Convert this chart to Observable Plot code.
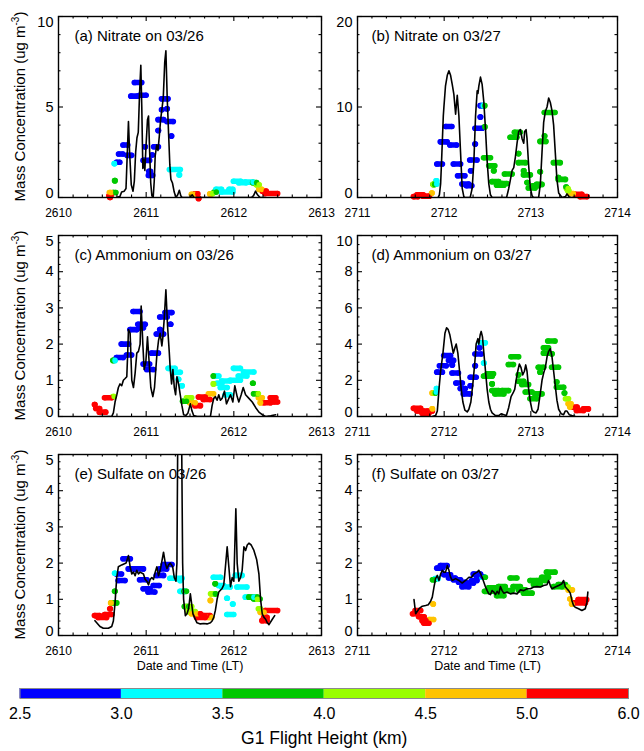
<!DOCTYPE html>
<html><head><meta charset="utf-8">
<script src="https://cdn.jsdelivr.net/npm/d3@7"></script>
<script src="https://cdn.jsdelivr.net/npm/@observablehq/plot@0.6"></script>
<style>
body{margin:0;background:#fff;}
#fig{position:relative;width:644px;height:751px;background:#fff;}
#fig svg{position:absolute;}
</style></head><body><div id="fig"></div>
<script>
// ---------- colour bins (G1 flight height, km) ----------
const heightLabels = ["2.5","3.0","3.5","4.0","4.5","5.0","6.0"];
const heightThresholds = [3.0,3.5,4.0,4.5,5.0];
const binColors = ["#0000ff","#00ffff","#00c800","#99ff00","#ffc300","#ff0000"];

// ---------- tick labels ----------
const xTicks26 = [2610,2611,2612,2613];
const xTicks27 = [2711,2712,2713,2714];
const yTicksA = [0,5,10];
const yTicksB = [0,10,20];
const yTicksC = [0,1,2,3,4,5];
const yTicksD = [0,2,4,6,8,10];
const yTicksE = [0,1,2,3,4,5];
const yTicksF = [0,1,2,3,4,5];

// ---------- (a) Nitrate 03/26 ----------
const nitrate26Line = [[2610.66,0],[2610.70,0.05],[2610.72,0.3],[2610.75,0.35],[2610.77,0.5],[2610.785,2.5],[2610.798,4.2],[2610.81,2.6],[2610.83,0.7],[2610.85,0.35],[2610.865,0.9],[2610.88,2.5],[2610.895,3.3],[2610.91,3.6],[2610.925,5.8],[2610.939,7.3],[2610.95,5.0],[2610.962,1.6],[2610.972,2.1],[2610.985,1.5],[2611.0,3.0],[2611.015,4.3],[2611.027,4.5],[2611.04,2.5],[2611.052,0.8],[2611.065,0.1],[2611.08,0],[2611.092,0.9],[2611.103,2.3],[2611.12,2.9],[2611.135,2.6],[2611.15,3.4],[2611.165,4.3],[2611.18,4.9],[2611.195,5.5],[2611.212,7.5],[2611.225,8.1],[2611.24,5.5],[2611.256,3.5],[2611.27,1.8],[2611.282,1.0],[2611.30,0.8],[2611.32,0.3],[2611.34,0],[2611.36,0.15],[2611.378,0.4],[2611.395,0.1],[2611.41,0],[2611.50,0],[2611.525,0.15],[2611.545,0],[2612.2,0],[2612.225,0.1],[2612.248,0.35],[2612.27,0.15],[2612.30,0],[2612.36,0]];
const nitrate26Dots = [[2610.58,2610.60,0.1,5.5],[2610.59,2610.59,0.0,5.5],[2610.585,2610.60,0.28,4.7],[2610.625,2610.655,0.28,3.8],[2610.645,2610.645,0.93,3.8],[2610.64,2610.64,1.87,3.2],[2610.665,2610.70,1.95,2.8],[2610.69,2610.735,2.4,2.8],[2610.74,2610.79,2.9,2.8],[2610.785,2610.835,2.33,2.8],[2610.83,2610.90,5.6,2.8],[2610.87,2610.95,6.35,2.8],[2610.93,2611.0,5.65,2.8],[2610.99,2610.99,2.8,2.8],[2610.97,2611.04,2.05,2.8],[2611.03,2611.075,1.22,2.8],[2611.035,2611.05,1.45,2.8],[2611.07,2611.07,2.35,2.8],[2611.09,2611.14,2.8,2.8],[2611.14,2611.14,3.7,2.8],[2611.14,2611.20,4.3,2.8],[2611.18,2611.18,4.85,2.8],[2611.18,2611.25,5.45,2.8],[2611.24,2611.24,4.9,2.8],[2611.24,2611.31,4.2,2.8],[2611.29,2611.29,3.4,2.8],[2611.27,2611.39,1.55,3.2],[2611.38,2611.38,1.25,3.2],[2611.52,2611.55,0.18,4.7],[2611.56,2611.59,0.2,5.5],[2611.60,2611.60,-0.05,5.5],[2611.73,2611.74,0.2,4.7],[2611.75,2611.76,0.22,4.2],[2611.78,2611.80,0.3,3.8],[2611.80,2611.86,0.45,3.2],[2611.86,2611.99,0.3,3.2],[2611.95,2611.99,0.45,3.2],[2612.0,2612.08,0.9,3.2],[2612.06,2612.14,0.82,3.2],[2612.13,2612.22,0.85,3.2],[2612.22,2612.26,0.82,3.8],[2612.26,2612.29,0.7,4.2],[2612.29,2612.32,0.45,4.7],[2612.33,2612.37,0.35,5.5],[2612.36,2612.50,0.22,5.5]];

// ---------- (b) Nitrate 03/27 ----------
const nitrate27Line = [[2711.93,0],[2711.945,0.3],[2711.959,1.5],[2711.97,4],[2711.978,6],[2711.99,9],[2711.997,10],[2712.015,12.3],[2712.036,13.5],[2712.055,14.0],[2712.074,13.5],[2712.093,12.5],[2712.112,11.4],[2712.132,9.2],[2712.151,11.3],[2712.170,9.0],[2712.189,5.0],[2712.208,1.0],[2712.227,0.1],[2712.24,0],[2712.30,0],[2712.323,1.0],[2712.343,4.0],[2712.362,9.0],[2712.381,11.8],[2712.39,11.5],[2712.40,12.3],[2712.419,13.3],[2712.438,12.5],[2712.458,10.5],[2712.477,7.5],[2712.496,4.0],[2712.515,1.5],[2712.534,0.3],[2712.553,0],[2712.72,0],[2712.745,1.0],[2712.765,2.0],[2712.784,3.0],[2712.803,3.3],[2712.822,4.5],[2712.841,6.0],[2712.860,7.3],[2712.880,7.5],[2712.899,6.5],[2712.918,6.0],[2712.929,7.3],[2712.945,7.5],[2712.956,6.5],[2712.975,3.5],[2712.995,1.0],[2713.014,0.2],[2713.03,0],[2713.09,0],[2713.11,1.5],[2713.129,5.0],[2713.148,8.3],[2713.167,9.5],[2713.187,10.0],[2713.206,11.0],[2713.225,10.5],[2713.244,9.6],[2713.263,8.0],[2713.282,5.0],[2713.301,2.0],[2713.321,0.5],[2713.36,0],[2713.40,0.1],[2713.417,0.4],[2713.44,0.1],[2713.46,0],[2713.51,0]];
const nitrate27Dots = [[2711.65,2711.70,0.1,5.5],[2711.69,2711.76,0.3,5.5],[2711.76,2711.83,0.15,5.5],[2711.86,2711.86,0.5,4.7],[2711.875,2711.875,1.45,4.2],[2711.88,2711.89,1.45,3.8],[2711.91,2711.915,1.85,3.2],[2711.915,2711.915,1.5,3.2],[2711.92,2711.98,3.7,2.8],[2711.96,2712.035,6.15,2.8],[2712.02,2712.09,7.85,2.8],[2712.07,2712.145,5.8,2.8],[2712.11,2712.19,3.7,2.8],[2712.16,2712.24,2.4,2.8],[2712.21,2712.285,1.5,2.8],[2712.26,2712.32,1.3,2.8],[2712.31,2712.31,2.95,2.8],[2712.30,2712.38,4.15,2.8],[2712.36,2712.36,5.9,2.8],[2712.36,2712.44,7.65,2.8],[2712.42,2712.42,8.9,2.8],[2712.42,2712.44,10.15,2.8],[2712.44,2712.45,10.15,3.2],[2712.46,2712.47,10.15,3.8],[2712.47,2712.47,7.8,3.8],[2712.46,2712.535,4.4,3.8],[2712.52,2712.585,3.5,3.8],[2712.575,2712.575,2.95,3.8],[2712.555,2712.63,1.75,3.8],[2712.61,2712.69,1.35,3.8],[2712.67,2712.725,1.55,3.8],[2712.70,2712.785,2.6,3.8],[2712.765,2712.84,6.65,3.8],[2712.815,2712.88,7.2,3.8],[2712.86,2712.86,4.85,3.8],[2712.86,2712.94,3.85,3.8],[2712.92,2712.92,2.95,3.8],[2712.92,2712.995,2.5,3.8],[2712.96,2712.96,1.65,3.8],[2712.975,2713.05,1.05,3.8],[2713.025,2713.09,1.3,3.8],[2713.07,2713.13,1.45,3.8],[2713.11,2713.11,2.85,3.8],[2713.11,2713.175,6.2,3.8],[2713.16,2713.16,6.8,3.8],[2713.16,2713.28,9.4,3.8],[2713.265,2713.34,3.85,3.8],[2713.32,2713.32,2.2,3.8],[2713.32,2713.40,2.0,3.8],[2713.41,2713.41,1.15,3.8],[2713.415,2713.43,1.0,4.2],[2713.43,2713.44,0.75,4.2],[2713.455,2713.49,0.45,4.7],[2713.51,2713.59,0.35,5.5],[2713.57,2713.65,0.1,5.5]];

// ---------- (c) Ammonium 03/26 ----------
const ammonium26Line = [[2610.47,0],[2610.607,0],[2610.626,0.1],[2610.645,0.4],[2610.665,0.6],[2610.683,0.8],[2610.702,0.9],[2610.721,0.85],[2610.740,1.0],[2610.760,1.05],[2610.779,1.1],[2610.79,1.8],[2610.798,2.4],[2610.817,2.3],[2610.836,1.0],[2610.855,0.8],[2610.874,1.2],[2610.893,1.75],[2610.912,1.8],[2610.931,2.0],[2610.943,3.05],[2610.962,2.0],[2610.977,1.3],[2610.996,1.5],[2611.015,2.2],[2611.034,1.5],[2611.053,0.8],[2611.076,0.55],[2611.095,0.8],[2611.122,1.7],[2611.141,2.1],[2611.160,2.3],[2611.179,1.95],[2611.191,2.2],[2611.206,2.7],[2611.225,3.5],[2611.244,2.5],[2611.263,1.8],[2611.275,1.3],[2611.290,0.9],[2611.305,1.3],[2611.321,0.8],[2611.336,0.6],[2611.351,1.1],[2611.370,0.9],[2611.389,0.6],[2611.408,0.3],[2611.427,0.05],[2611.454,0.03],[2611.477,0.1],[2611.504,0.35],[2611.523,0.15],[2611.542,0.03],[2611.58,0],[2611.733,0],[2611.752,0.3],[2611.771,0.5],[2611.790,0.55],[2611.809,0.45],[2611.828,0.6],[2611.847,0.45],[2611.866,0.5],[2611.893,0.7],[2611.916,0.35],[2611.943,0.5],[2611.962,0.6],[2611.989,0.4],[2612.011,0.85],[2612.038,0.55],[2612.057,0.4],[2612.084,0.6],[2612.107,0.8],[2612.134,0.6],[2612.172,0.5],[2612.210,0.4],[2612.248,0.25],[2612.286,0.12],[2612.324,0.05],[2612.363,0],[2612.42,0.02],[2612.477,0.05]];
const ammonium26Dots = [[2610.415,2610.415,0.33,5.5],[2610.43,2610.47,0.22,5.5],[2610.47,2610.54,0.12,5.5],[2610.53,2610.61,0.52,5.5],[2610.625,2610.635,0.55,4.2],[2610.625,2610.625,1.55,3.8],[2610.645,2610.645,1.55,3.2],[2610.665,2610.74,1.63,2.8],[2610.72,2610.80,2.0,2.8],[2610.78,2610.835,1.7,2.8],[2610.82,2610.895,2.4,2.8],[2610.855,2610.93,2.9,2.8],[2610.91,2610.99,2.55,2.8],[2610.93,2610.97,2.45,2.8],[2610.97,2611.04,1.45,2.8],[2611.01,2611.085,1.3,2.8],[2611.065,2611.14,1.75,2.8],[2611.12,2611.20,2.28,2.8],[2611.16,2611.16,2.4,2.8],[2611.16,2611.24,2.75,2.8],[2611.22,2611.295,2.87,2.8],[2611.28,2611.28,2.55,2.8],[2611.255,2611.33,1.33,3.2],[2611.31,2611.39,1.22,3.2],[2611.37,2611.37,1.03,3.2],[2611.41,2611.41,0.85,3.2],[2611.42,2611.46,0.42,3.8],[2611.465,2611.52,0.52,4.2],[2611.50,2611.56,0.38,4.7],[2611.56,2611.62,0.3,5.5],[2611.60,2611.675,0.54,5.5],[2611.655,2611.73,0.47,5.5],[2611.715,2611.77,0.63,4.7],[2611.77,2611.77,1.12,3.8],[2611.79,2611.83,1.12,3.2],[2611.77,2611.77,0.9,4.2],[2611.81,2611.865,0.92,3.2],[2611.85,2611.925,0.8,3.2],[2611.865,2611.96,0.98,3.2],[2611.905,2611.96,0.6,3.2],[2611.96,2612.075,1.0,3.2],[2612.0,2612.075,1.33,3.2],[2612.055,2612.15,1.12,3.2],[2612.115,2612.23,1.23,3.2],[2612.22,2612.22,0.92,3.8],[2612.23,2612.27,0.63,3.8],[2612.27,2612.28,0.63,4.2],[2612.285,2612.325,0.52,4.7],[2612.305,2612.305,0.38,4.7],[2612.345,2612.42,0.38,5.5],[2612.42,2612.48,0.52,5.5],[2612.46,2612.50,0.4,5.5]];

// ---------- (d) Ammonium 03/27 ----------
const ammonium27Line = [[2711.863,0],[2711.901,0.05],[2711.921,0.3],[2711.940,1.5],[2711.959,2.5],[2711.986,3.5],[2712.009,4.6],[2712.028,4.9],[2712.047,4.8],[2712.066,4.5],[2712.086,4.0],[2712.105,3.5],[2712.124,3.8],[2712.139,4.0],[2712.158,3.5],[2712.178,2.5],[2712.197,1.5],[2712.216,0.8],[2712.239,0.35],[2712.266,0.25],[2712.285,0.4],[2712.308,0.8],[2712.331,1.8],[2712.354,3.0],[2712.369,4.0],[2712.389,4.3],[2712.400,4.0],[2712.415,4.5],[2712.427,4.7],[2712.442,4.4],[2712.458,3.5],[2712.477,2.5],[2712.496,1.5],[2712.515,0.8],[2712.534,0.4],[2712.553,0.2],[2712.592,0.05],[2712.630,0.05],[2712.657,0.15],[2712.688,0.1],[2712.718,0.05],[2712.745,0.5],[2712.772,1.1],[2712.795,1.3],[2712.814,1.5],[2712.830,2.0],[2712.849,2.5],[2712.868,2.9],[2712.887,2.7],[2712.906,2.3],[2712.926,2.5],[2712.941,2.85],[2712.956,2.5],[2712.975,1.5],[2712.995,0.8],[2713.014,0.35],[2713.033,0.25],[2713.060,0.2],[2713.083,0.4],[2713.110,1.3],[2713.129,2.0],[2713.148,2.4],[2713.167,2.7],[2713.187,3.3],[2713.206,3.6],[2713.225,3.75],[2713.244,3.3],[2713.263,2.5],[2713.282,1.7],[2713.301,0.9],[2713.321,0.4],[2713.351,0.15],[2713.378,0.1],[2713.397,0.3],[2713.417,0.3],[2713.443,0.1],[2713.474,0.05],[2713.512,0]];
const ammonium27Dots = [[2711.65,2711.73,0.45,5.5],[2711.69,2711.77,0.3,5.5],[2711.75,2711.825,0.18,5.5],[2711.805,2711.865,0.3,5.5],[2711.865,2711.865,0.42,4.7],[2711.865,2711.865,1.3,4.7],[2711.875,2711.885,1.3,4.2],[2711.895,2711.90,1.3,3.8],[2711.915,2711.915,1.55,3.2],[2711.91,2711.91,1.35,3.2],[2711.92,2711.98,2.45,2.8],[2711.95,2712.025,2.8,2.8],[2712.0,2712.075,3.37,2.8],[2712.055,2712.11,3.1,2.8],[2712.095,2712.095,2.85,2.8],[2712.095,2712.165,2.4,2.8],[2712.14,2712.21,1.85,2.8],[2712.19,2712.245,1.55,2.8],[2712.225,2712.30,1.25,2.8],[2712.305,2712.305,1.7,2.8],[2712.305,2712.37,2.17,2.8],[2712.36,2712.36,2.8,2.8],[2712.36,2712.43,3.45,2.8],[2712.41,2712.41,3.8,2.8],[2712.42,2712.475,4.07,3.2],[2712.46,2712.46,2.95,3.2],[2712.46,2712.555,2.23,3.8],[2712.50,2712.57,2.36,3.8],[2712.555,2712.555,1.8,3.8],[2712.555,2712.63,1.43,3.8],[2712.59,2712.69,1.25,3.8],[2712.67,2712.745,1.43,3.8],[2712.745,2712.80,2.87,3.8],[2712.775,2712.86,3.3,3.8],[2712.86,2712.86,2.3,3.8],[2712.86,2712.92,1.95,3.8],[2712.90,2712.975,1.77,3.8],[2712.94,2713.015,1.35,3.8],[2712.995,2713.07,0.98,3.8],[2713.05,2713.13,1.25,3.8],[2713.11,2713.11,2.45,3.8],[2713.09,2713.15,2.72,3.8],[2713.15,2713.20,3.5,3.8],[2713.15,2713.205,3.8,3.8],[2713.20,2713.28,4.17,3.8],[2713.245,2713.245,3.46,3.8],[2713.245,2713.32,2.72,3.8],[2713.30,2713.30,1.9,3.8],[2713.30,2713.38,1.62,3.8],[2713.39,2713.39,1.3,3.8],[2713.405,2713.435,0.98,4.2],[2713.435,2713.465,0.7,4.7],[2713.455,2713.455,0.52,4.7],[2713.475,2713.535,0.52,5.5],[2713.53,2713.61,0.33,5.5],[2713.61,2713.665,0.42,5.5]];

// ---------- (e) Sulfate 03/26 ----------
const sulfate26Line = [[2610.416,0.41],[2610.473,0.25],[2610.511,0.2],[2610.569,0.2],[2610.607,0.25],[2610.626,0.4],[2610.645,0.9],[2610.664,1.6],[2610.683,1.9],[2610.721,1.95],[2610.771,2.0],[2610.798,2.21],[2610.817,1.9],[2610.836,1.7],[2610.855,1.75],[2610.874,1.65],[2610.893,1.8],[2610.912,1.7],[2610.931,1.75],[2610.969,1.7],[2610.989,1.55],[2611.008,1.5],[2611.027,1.4],[2611.046,1.55],[2611.065,1.6],[2611.084,1.55],[2611.103,1.75],[2611.122,1.9],[2611.141,1.65],[2611.160,1.8],[2611.179,2.05],[2611.198,2.3],[2611.218,2.0],[2611.237,1.85],[2611.256,1.95],[2611.275,2.0],[2611.302,1.9],[2611.321,1.6],[2611.340,1.5],[2611.351,2.0],[2611.363,6.5],[2611.401,6.5],[2611.416,2.0],[2611.427,1.0],[2611.447,0.55],[2611.466,0.6],[2611.485,0.75],[2611.504,1.15],[2611.523,0.8],[2611.534,0.6],[2611.550,0.5],[2611.580,0.35],[2611.618,0.32],[2611.656,0.33],[2611.695,0.32],[2611.733,0.35],[2611.752,0.4],[2611.771,0.5],[2611.790,0.7],[2611.809,1.0],[2611.828,1.2],[2611.847,1.25],[2611.866,1.3],[2611.885,1.4],[2611.897,1.7],[2611.924,2.45],[2611.943,1.9],[2611.962,1.35],[2611.981,1.6],[2612.0,1.5],[2612.023,3.5],[2612.038,2.0],[2612.057,1.5],[2612.076,1.6],[2612.095,1.8],[2612.115,2.45],[2612.134,2.35],[2612.153,2.5],[2612.172,2.55],[2612.198,2.5],[2612.229,2.35],[2612.260,2.1],[2612.286,1.7],[2612.305,1.0],[2612.324,0.6],[2612.344,0.5],[2612.363,0.45],[2612.382,0.35],[2612.401,0.3],[2612.439,0.45],[2612.466,0.55]];
const sulfate26Dots = [[2610.415,2610.47,0.55,5.5],[2610.455,2610.55,0.5,5.5],[2610.53,2610.61,0.58,5.5],[2610.59,2610.59,0.74,5.5],[2610.60,2610.60,0.9,4.7],[2610.61,2610.665,0.9,3.8],[2610.645,2610.645,1.22,3.8],[2610.645,2610.645,1.72,3.2],[2610.665,2610.72,1.7,2.8],[2610.685,2610.76,1.52,2.8],[2610.74,2610.82,2.12,2.8],[2610.80,2610.875,1.84,2.8],[2610.875,2610.97,1.84,2.8],[2610.93,2611.01,1.54,2.8],[2610.97,2611.045,1.29,2.8],[2611.025,2611.10,1.2,2.8],[2611.085,2611.15,1.38,2.8],[2611.12,2611.20,1.66,2.8],[2611.16,2611.235,1.84,2.8],[2611.20,2611.295,1.96,2.8],[2611.275,2611.41,1.58,3.2],[2611.39,2611.39,1.52,3.2],[2611.39,2611.445,1.22,3.2],[2611.43,2611.46,1.22,3.8],[2611.44,2611.485,0.8,3.8],[2611.465,2611.52,0.8,4.2],[2611.485,2611.56,0.66,4.2],[2611.52,2611.58,0.6,4.7],[2611.56,2611.62,0.6,5.5],[2611.58,2611.675,0.5,5.5],[2611.655,2611.73,0.55,5.5],[2611.715,2611.75,0.5,4.7],[2611.735,2611.735,0.97,4.7],[2611.74,2611.78,1.15,4.2],[2611.79,2611.79,1.15,3.8],[2611.79,2611.79,1.43,3.8],[2611.77,2611.85,1.61,3.2],[2611.83,2611.885,1.38,3.2],[2611.865,2611.96,1.34,3.2],[2611.925,2611.925,1.03,3.2],[2611.925,2612.0,0.58,3.2],[2611.99,2611.99,0.87,3.2],[2612.02,2612.095,1.66,3.2],[2612.04,2612.15,1.34,3.2],[2612.135,2612.23,1.06,3.2],[2612.17,2612.27,1.06,3.8],[2612.23,2612.30,1.01,3.8],[2612.27,2612.27,1.0,4.2],[2612.285,2612.305,0.74,4.2],[2612.305,2612.345,0.64,4.7],[2612.345,2612.38,0.5,5.5],[2612.325,2612.38,0.41,5.5],[2612.36,2612.50,0.69,5.5]];

// ---------- (f) Sulfate 03/27 ----------
const sulfate27Line = [[2711.652,0.99],[2711.671,0.6],[2711.710,0.74],[2711.748,0.81],[2711.786,0.83],[2711.817,0.85],[2711.844,0.95],[2711.863,1.06],[2711.882,1.33],[2711.901,1.57],[2711.921,1.66],[2711.940,1.52],[2711.959,1.7],[2711.978,1.8],[2711.997,1.75],[2712.016,1.75],[2712.036,1.93],[2712.055,1.8],[2712.074,1.61],[2712.093,1.52],[2712.132,1.57],[2712.170,1.52],[2712.208,1.45],[2712.247,1.52],[2712.285,1.61],[2712.316,1.61],[2712.343,1.7],[2712.381,1.75],[2712.400,1.8],[2712.419,1.72],[2712.438,1.61],[2712.458,1.47],[2712.477,1.34],[2712.496,1.24],[2712.515,1.15],[2712.534,1.13],[2712.553,1.24],[2712.573,1.2],[2712.592,1.13],[2712.611,1.22],[2712.630,1.15],[2712.649,1.35],[2712.669,1.24],[2712.688,1.17],[2712.726,1.2],[2712.764,1.15],[2712.803,1.17],[2712.841,1.15],[2712.880,1.26],[2712.918,1.24],[2712.956,1.29],[2712.995,1.29],[2713.033,1.34],[2713.071,1.35],[2713.110,1.34],[2713.148,1.38],[2713.186,1.4],[2713.206,1.52],[2713.225,1.38],[2713.244,1.29],[2713.282,1.34],[2713.321,1.38],[2713.359,1.43],[2713.378,1.52],[2713.397,1.35],[2713.417,1.29],[2713.436,1.24],[2713.455,1.17],[2713.474,0.97],[2713.493,0.83],[2713.512,0.78],[2713.551,0.74],[2713.589,0.69],[2713.628,0.74],[2713.647,0.92],[2713.658,1.2]];
const sulfate27Dots = [[2711.64,2711.69,0.6,5.5],[2711.67,2711.73,0.69,5.5],[2711.71,2711.77,0.52,5.5],[2711.75,2711.79,0.41,5.5],[2711.77,2711.825,0.34,5.5],[2711.83,2711.88,0.44,4.7],[2711.875,2711.875,0.87,4.7],[2711.87,2711.89,1.54,3.8],[2711.90,2711.93,1.57,3.2],[2711.92,2711.98,1.86,2.8],[2711.96,2712.035,1.93,2.8],[2712.0,2712.075,1.68,2.8],[2712.055,2712.13,1.59,2.8],[2712.11,2712.19,1.54,2.8],[2712.17,2712.245,1.47,2.8],[2712.21,2712.285,1.35,2.8],[2712.265,2712.34,1.45,2.8],[2712.32,2712.38,1.52,2.8],[2712.34,2712.42,1.7,2.8],[2712.38,2712.445,1.63,2.8],[2712.44,2712.47,1.61,3.2],[2712.46,2712.475,1.61,3.8],[2712.47,2712.535,1.22,3.8],[2712.515,2712.59,1.32,3.8],[2712.575,2712.65,1.22,3.8],[2712.61,2712.69,1.1,3.8],[2712.63,2712.705,1.35,3.8],[2712.69,2712.785,1.24,3.8],[2712.765,2712.84,1.59,3.8],[2712.80,2712.88,1.35,3.8],[2712.86,2712.94,1.26,3.8],[2712.92,2713.015,1.17,3.8],[2712.995,2713.07,1.52,3.8],[2713.035,2713.11,1.41,3.8],[2713.09,2713.17,1.52,3.8],[2713.13,2713.205,1.61,3.8],[2713.185,2713.28,1.75,3.8],[2713.265,2713.36,1.35,3.8],[2713.32,2713.40,1.41,3.8],[2713.40,2713.43,1.34,4.2],[2713.435,2713.48,1.26,4.7],[2713.455,2713.455,1.01,4.7],[2713.475,2713.475,0.87,4.7],[2713.495,2713.63,0.9,5.5],[2713.55,2713.645,0.99,5.5]];

const FONT = "'Liberation Sans', Arial, Helvetica, sans-serif";
const fig = document.getElementById("fig");
const isMajor = (arr, v) => arr.some(m => Math.abs(m - v) < 1e-6);
const yLabBase = "Mass Concentration (ug m";
const yLabSup = "-3";
const yLabTail = ")";
const NS = "http://www.w3.org/2000/svg";

function addYLabel(svg, cx, cy) {
  const t = document.createElementNS(NS, "text");
  t.setAttribute("transform", `translate(${cx},${cy}) rotate(-90)`);
  t.setAttribute("text-anchor", "middle");
  t.setAttribute("dy", "0.35em");
  t.setAttribute("font-size", "15");
  t.setAttribute("font-family", FONT);
  t.setAttribute("fill", "#000");
  const a = document.createElementNS(NS, "tspan"); a.textContent = yLabBase;
  const s = document.createElementNS(NS, "tspan"); s.setAttribute("dy", "-6"); s.setAttribute("font-size", "10"); s.textContent = yLabSup;
  const c = document.createElementNS(NS, "tspan"); c.setAttribute("dy", "6"); c.textContent = yLabTail;
  t.appendChild(a); t.appendChild(s); t.appendChild(c);
  svg.appendChild(t);
}

function panel(cfg) {
  const {line, dots, title, xMajor, yMajor, yMinorStep, left, top, width, height, ml, mr, mt, mb, yLabel, xLabel, titleDx} = cfg;
  const iw = width - ml - mr, ih = height - mt - mb;
  const xDomain = [xMajor[0], xMajor[xMajor.length - 1]];
  const yDomain = [yMajor[0], yMajor[yMajor.length - 1]];
  const recs = dots.map(([x1, x2, y, h]) => ({x1, x2, y, h}));
  const yMinor = d3.range(yDomain[0], yDomain[1] + 1e-9, yMinorStep).filter(v => !isMajor(yMajor, v));
  const xMinor = d3.range(xDomain[0], xDomain[1] + 1e-9, 1 / 6).filter(v => !isMajor(xMajor, v));
  const tk = 1.1;
  const marks = [
    Plot.ruleY(recs, {x1: "x1", x2: "x2", y: "y", stroke: "h", strokeWidth: 5.6, strokeLinecap: "round"}),
    Plot.dot(recs, {x: "x1", y: "y", r: 2.8, fill: "h"}),
    Plot.dot(recs, {x: "x2", y: "y", r: 2.8, fill: "h"}),
    Plot.line(line, {x: d => d[0], y: d => d[1], stroke: "#000", strokeWidth: 1.6, clip: true}),
    Plot.tickY(yMajor, {y: d => d, insetRight: iw - 5, strokeWidth: tk}),
    Plot.tickY(yMajor, {y: d => d, insetLeft: iw - 5, strokeWidth: tk}),
    Plot.tickY(yMinor, {y: d => d, insetRight: iw - 2.5, strokeWidth: tk}),
    Plot.tickY(yMinor, {y: d => d, insetLeft: iw - 2.5, strokeWidth: tk}),
    Plot.tickX(xMajor, {x: d => d, insetTop: ih - 5, strokeWidth: tk}),
    Plot.tickX(xMajor, {x: d => d, insetBottom: ih - 5, strokeWidth: tk}),
    Plot.tickX(xMinor, {x: d => d, insetTop: ih - 2.5, strokeWidth: tk}),
    Plot.tickX(xMinor, {x: d => d, insetBottom: ih - 2.5, strokeWidth: tk}),
    Plot.frame({stroke: "#000", strokeWidth: 1.4}),
    Plot.text([title], {text: d => d, frameAnchor: "top-left", dx: titleDx, dy: 20, textAnchor: "start", lineAnchor: "middle", fontSize: 15, fill: "#000"}),
    Plot.text(yMajor.slice(1, -1), {y: d => d, text: d => String(d), frameAnchor: "left", dx: -5, textAnchor: "end", lineAnchor: "middle", fontSize: 14.5, fill: "#000"}),
    Plot.text([yMajor[0]], {y: d => d, text: d => String(d), frameAnchor: "left", dx: -5, textAnchor: "end", lineAnchor: "bottom", fontSize: 14.5, fill: "#000"}),
    Plot.text([yMajor[yMajor.length - 1]], {y: d => d, text: d => String(d), frameAnchor: "left", dx: -5, textAnchor: "end", lineAnchor: "top", fontSize: 14.5, fill: "#000"}),
    Plot.text(xMajor, {x: d => d, text: d => String(d), frameAnchor: "bottom", dy: 16, lineAnchor: "middle", fontSize: 12, fill: "#000"})
  ];
  if (xLabel) marks.push(Plot.text([xLabel], {text: d => d, frameAnchor: "bottom", dy: 34, fontSize: 12.5, fill: "#000"}));
  const el = Plot.plot({
    width, height, marginLeft: ml, marginRight: mr, marginTop: mt, marginBottom: mb,
    style: {fontFamily: FONT, background: "transparent", overflow: "visible"},
    x: {domain: xDomain, axis: null},
    y: {domain: yDomain, axis: null},
    color: {type: "threshold", domain: heightThresholds, range: binColors},
    marks
  });
  if (yLabel) addYLabel(el, 20, mt + ih / 2);
  el.style.position = "absolute";
  el.style.left = left + "px";
  el.style.top = top + "px";
  fig.appendChild(el);
}

const col1 = {left: 0, width: 322, ml: 58, mr: 1, titleDx: 16};
const col2 = {left: 322, width: 322, ml: 35, mr: 27, titleDx: 14};
const row1 = {top: 0, height: 220, mt: 16, mb: 23};
const row2 = {top: 220, height: 220, mt: 15, mb: 24};
const row3 = {top: 440, height: 240, mt: 14, mb: 45};

panel({...col1, ...row1, line: nitrate26Line, dots: nitrate26Dots, title: "(a) Nitrate on 03/26", xMajor: xTicks26, yMajor: yTicksA, yMinorStep: 1, yLabel: true});
panel({...col2, ...row1, line: nitrate27Line, dots: nitrate27Dots, title: "(b) Nitrate on 03/27", xMajor: xTicks27, yMajor: yTicksB, yMinorStep: 2});
panel({...col1, ...row2, line: ammonium26Line, dots: ammonium26Dots, title: "(c) Ammonium on 03/26", xMajor: xTicks26, yMajor: yTicksC, yMinorStep: 0.2, yLabel: true});
panel({...col2, ...row2, line: ammonium27Line, dots: ammonium27Dots, title: "(d) Ammonium on 03/27", xMajor: xTicks27, yMajor: yTicksD, yMinorStep: 0.5});
panel({...col1, ...row3, line: sulfate26Line, dots: sulfate26Dots, title: "(e) Sulfate on 03/26", xMajor: xTicks26, yMajor: yTicksE, yMinorStep: 0.2, yLabel: true, xLabel: "Date and Time (LT)"});
panel({...col2, ...row3, line: sulfate27Line, dots: sulfate27Dots, title: "(f) Sulfate on 03/27", xMajor: xTicks27, yMajor: yTicksF, yMinorStep: 0.2, xLabel: "Date and Time (LT)"});

// ---------- colour bar ----------
const bins = binColors.map((c, i) => ({i, c}));
const cb = Plot.plot({
  width: 644, height: 71, marginLeft: 19.5, marginRight: 16, marginTop: 8, marginBottom: 53,
  style: {fontFamily: FONT, background: "transparent", overflow: "visible"},
  x: {domain: [0, binColors.length], axis: null},
  y: {axis: null},
  marks: [
    Plot.rect(bins, {x1: d => d.i, x2: d => d.i + 1, fill: d => d.c}),
    Plot.frame({stroke: "#8a8a8a", strokeWidth: 1}),
    Plot.text(heightLabels, {x: (d, i) => i, text: d => d, frameAnchor: "bottom", dy: 15, lineAnchor: "middle", fontSize: 16, fill: "#000"}),
    Plot.text(["G1 Flight Height (km)"], {text: d => d, frameAnchor: "bottom", dy: 40, lineAnchor: "middle", fontSize: 17.5, fill: "#000"})
  ]
});
cb.style.position = "absolute";
cb.style.left = "0px";
cb.style.top = "680px";
fig.appendChild(cb);
</script>
</body></html>
